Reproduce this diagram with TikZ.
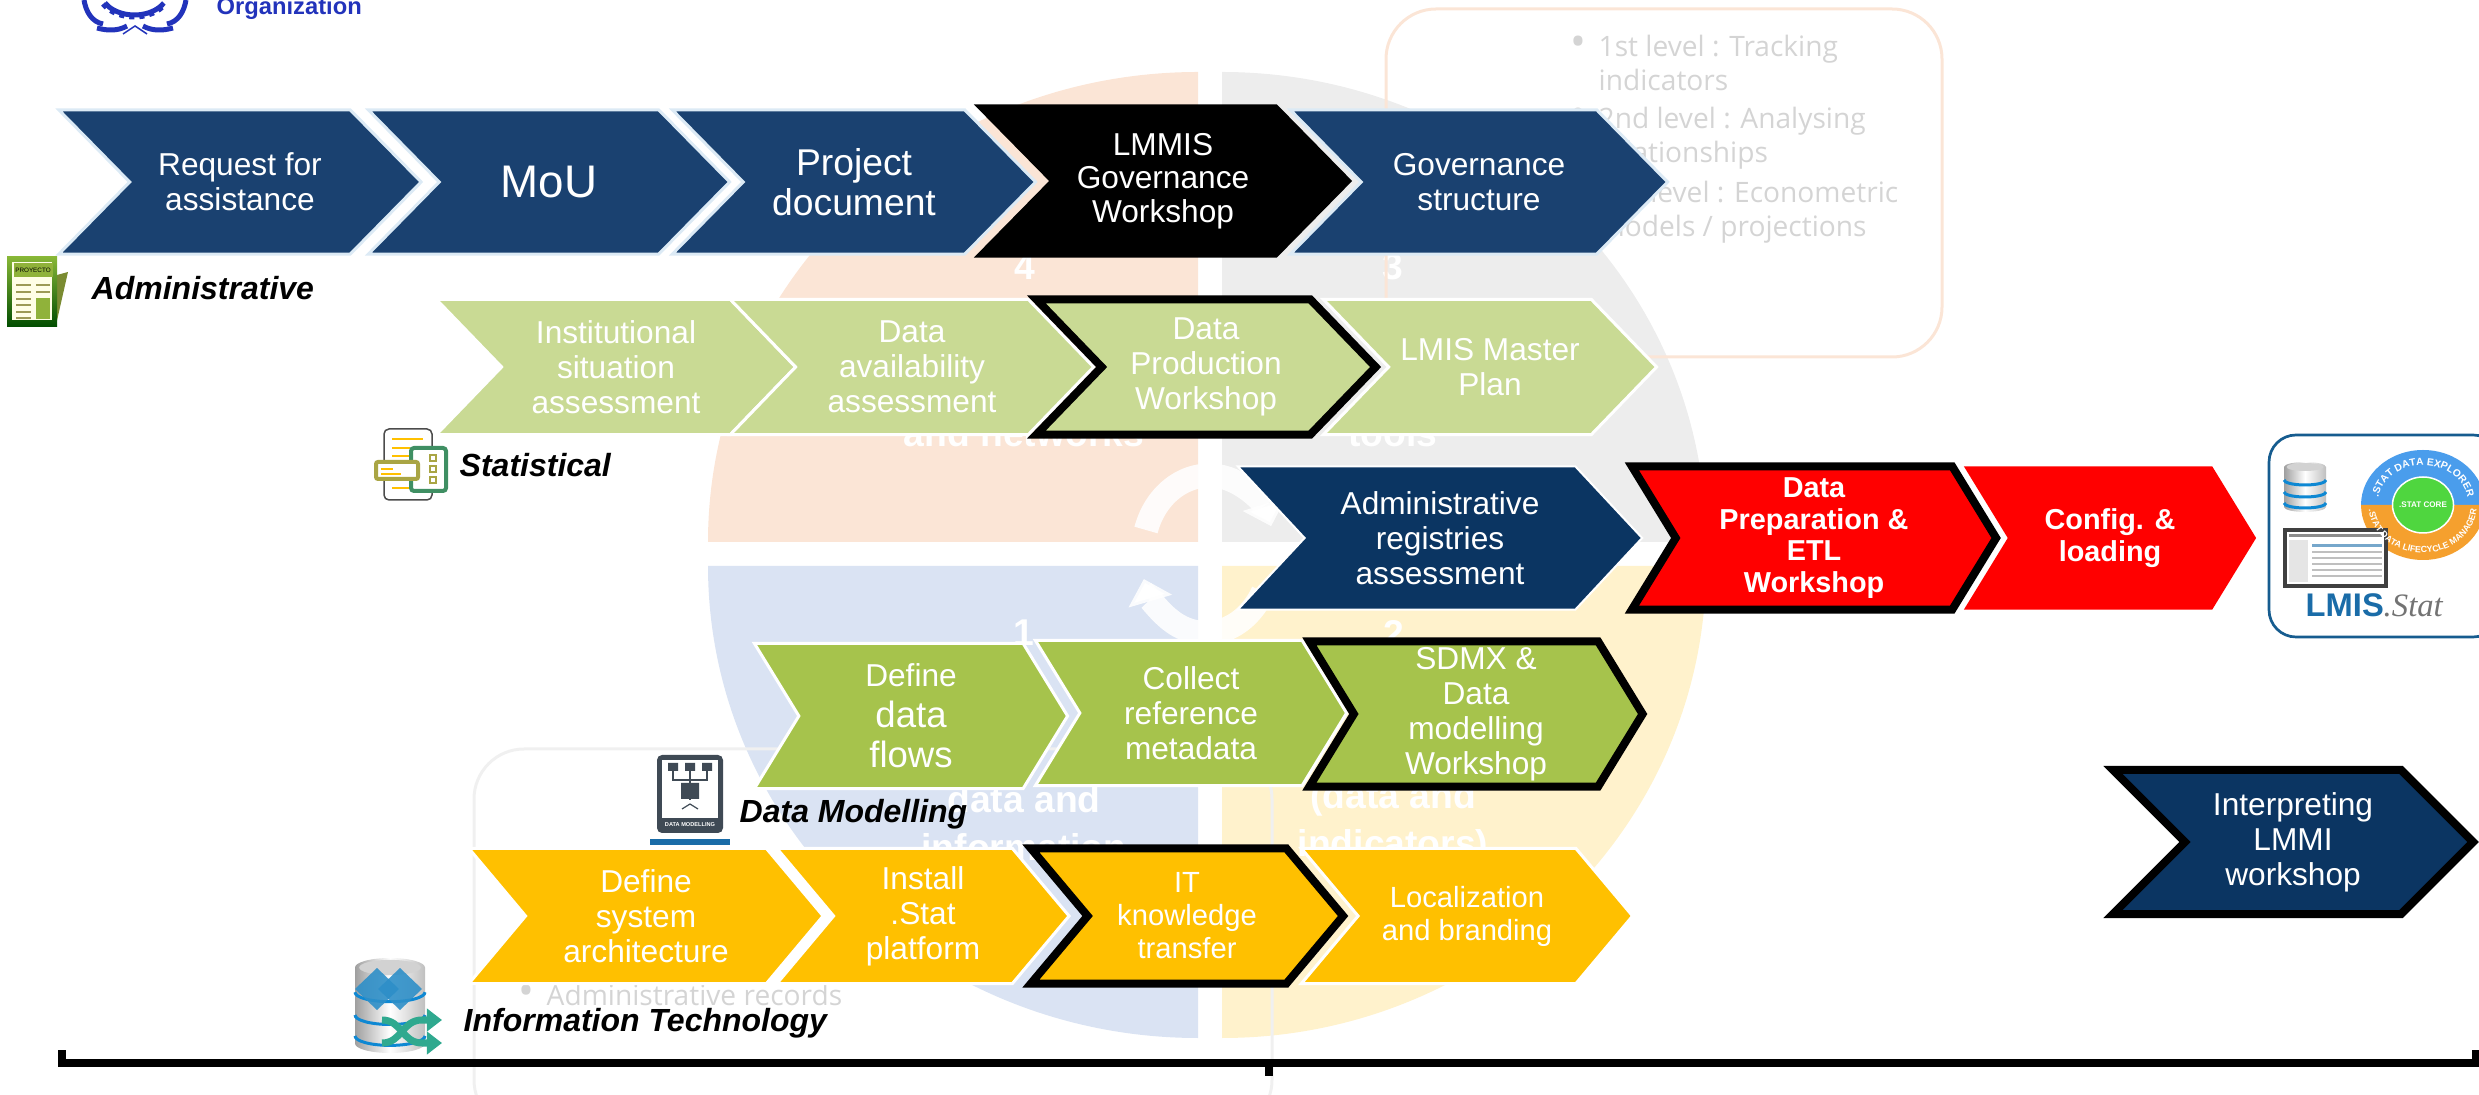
\documentclass[tikz,border=0pt]{standalone}
\usepackage{fontspec}
\setmainfont{Liberation Sans}
\newfontfamily\ghostfont{Open Sans}
\newfontfamily\slabfont{Liberation Serif}
\usetikzlibrary{shapes.symbols, arrows.meta, decorations.text}

\definecolor{quadpeach}{HTML}{FBE5D6}
\definecolor{quadgray}{HTML}{EDEDED}
\definecolor{quadblue}{HTML}{DAE3F3}
\definecolor{quadyellow}{HTML}{FFF2CC}
\definecolor{adminblue}{HTML}{1A4170}
\definecolor{adminpale}{HTML}{DCEAF5}
\definecolor{deepblue}{HTML}{0B3562}
\definecolor{statgreen}{HTML}{C9DA94}
\definecolor{modelgreen}{HTML}{A6C34C}
\definecolor{itorange}{HTML}{FFC000}
\definecolor{logoblue}{HTML}{2233BB}
\definecolor{lmisblue}{HTML}{1A6CA8}
\definecolor{ringblue}{HTML}{4A9DEC}
\definecolor{ringorange}{HTML}{F5A02E}
\definecolor{ringgreen}{HTML}{4FD63F}
\definecolor{ghostgray}{HTML}{D4D4D4}
\definecolor{teal}{HTML}{2FA98F}
\definecolor{olive}{HTML}{A9A544}
\definecolor{paper}{HTML}{3F8F63}
\definecolor{sheetgray}{HTML}{3F4A55}
\definecolor{diamondblue}{HTML}{2E8FC8}

\tikzset{dbstack/.pic={
    \shade[left color=gray!75, right color=gray!50, middle color=white] (-50,10) -- (-50,90) arc[start angle=180, end angle=0, x radius=50, y radius=10] -- (50,10) arc[start angle=0, end angle=-180, x radius=50, y radius=10] -- cycle;
    \fill[gray!35] (0,10) ellipse [x radius=44, y radius=8];
    \draw[cyan!70!blue, line width=.03cm] (-50,36) arc[start angle=180, end angle=0, x radius=50, y radius=10];
    \draw[cyan!70!blue, line width=.03cm] (-50,60) arc[start angle=180, end angle=0, x radius=50, y radius=10];
    \draw[cyan!70!blue, line width=.03cm] (-50,82) arc[start angle=180, end angle=0, x radius=50, y radius=10];
}}

\begin{document}
\begin{tikzpicture}[x=0.01cm, y=-0.01cm]
    \tikzstyle{flow} = [signal, signal to=east, signal from=west, outer sep=0pt, inner sep=0pt, align=center, text=white, font=\fontsize{9}{10}\selectfont]
    \tikzstyle{adminflow} = [flow, fill=adminblue, draw=adminpale, line width=.03cm, minimum height=1.44cm, signal pointer angle=91]
    \tikzstyle{statflow} = [flow, fill=statgreen, draw=white, line width=.03cm, minimum height=1.35cm, signal pointer angle=92]
    \tikzstyle{deepflow} = [flow, fill=deepblue, draw=white, line width=.02cm, minimum height=1.43cm, signal pointer angle=94]
    \tikzstyle{redflow} = [flow, fill=red, minimum height=1.43cm, signal pointer angle=117, font=\bfseries\fontsize{8.2}{9}\selectfont]
    \tikzstyle{modelflow} = [flow, fill=modelgreen, draw=white, line width=.03cm, minimum height=1.45cm, signal pointer angle=117]
    \tikzstyle{itflow} = [flow, fill=itorange, draw=white, line width=.03cm, minimum height=1.35cm, signal pointer angle=100]
    \tikzstyle{workshop} = [draw=black, line width=.08cm]
    \tikzstyle{tracklabel} = [anchor=west, inner sep=0pt, font=\bfseries\itshape\fontsize{9.1}{10}\selectfont]
    \tikzstyle{ghostword} = [text=white, align=center, inner sep=0pt, font=\bfseries\fontsize{10.6}{12}\selectfont]
    \tikzstyle{ghostbullet} = [anchor=west, align=left, inner sep=0pt, text=ghostgray, font=\ghostfont\fontsize{8}{9.7}\selectfont]
    \tikzstyle{ghostbox} = [rounded corners=.5cm, line width=.03cm]
    \tikzstyle{cyclearrow} = [draw=white, draw opacity=.88, line width=.24cm, -{Triangle[length=.23cm, width=.44cm]}]

    \clip (0,0) rectangle (2479,1095);

    % cycle in the background
    \fill[quadpeach] (1198,542) -- (1198,72) arc[start angle=270, end angle=180, x radius=490, y radius=470] -- cycle;
    \fill[quadgray] (1222,542) -- (1222,72) arc[start angle=270, end angle=360, x radius=484, y radius=470] -- cycle;
    \fill[quadblue] (1198,566) -- (708,566) arc[start angle=180, end angle=90, x radius=490, y radius=472] -- cycle;
    \fill[quadyellow] (1222,566) -- (1706,566) arc[start angle=0, end angle=90, x radius=484, y radius=472] -- cycle;
    \draw[cyclearrow] (1146,530) arc[start angle=197, end angle=340, x radius=66, y radius=77];
    \draw[cyclearrow] (1263,592) arc[start angle=30, end angle=160, x radius=66, y radius=82];

    \node (numfour) [ghostword] at (1025,267) {4};
    \node (numthree) [ghostword] at (1393,267) {3};
    \node (numone) [ghostword] at (1024,633) {1};
    \node (numtwo) [ghostword] at (1394,633) {2};
    \node (networks) [ghostword] at (1024,433) {and networks};
    \node (tools) [ghostword] at (1393,433) {tools};
    \node (datainfo) [ghostword] at (1024,823) {data and\\[.55mm]information};
    \node (dataind) [ghostword] at (1393,823) {(data and\\[.55mm]indicators)};

    % faded text boxes
    \draw[ghostbox, draw=quadpeach] (1386,9) rectangle (1942,357);
    \draw[ghostbox, draw=black!6] (474,749) rectangle (1272,1130);
    \node (levelone) [ghostbullet] at (1598,63) {\llap{{\fontsize{12}{9.7}\selectfont•}\hspace{1.2mm}}1st level : Tracking\\indicators};
    \node (leveltwo) [ghostbullet] at (1598,138) {\llap{{\fontsize{12}{9.7}\selectfont•}\hspace{1.2mm}}2nd level : Analysing\\relationships};
    \node (levelthree) [ghostbullet] at (1598,212) {\llap{{\fontsize{12}{9.7}\selectfont•}\hspace{1.2mm}}3rd level : Econometric\\models / projections};
    \node (records) [ghostbullet] at (546,995) {\llap{{\fontsize{12}{9.7}\selectfont•}\hspace{1.2mm}}Administrative records};

    % administrative
    \node (request) [adminflow, minimum width=3.62cm] at (240,182) {Request for\\assistance};
    \node (mou) [adminflow, minimum width=3.61cm, font=\fontsize{13}{14}\selectfont] at (549,182) {MoU};
    \node (document) [adminflow, minimum width=3.63cm, font=\fontsize{10.6}{11.4}\selectfont] at (854,182) {Project\\document};
    \node (lmmis) [flow, fill=black, minimum height=1.53cm, minimum width=3.78cm, signal pointer angle=91, font=\fontsize{9}{9.5}\selectfont] at (1163,181) {LMMIS\\Governance\\Workshop};
    \node (governance) [adminflow, minimum width=3.77cm] at (1479,182) {Governance\\structure};

    % statistical
    \node (institutional) [statflow, minimum width=3.59cm] at (616,367) {Institutional\\situation\\assessment};
    \node (availability) [statflow, minimum width=3.63cm] at (912,367) {Data\\availability\\assessment};
    \node (production) [statflow, workshop, minimum width=3.39cm] at (1206,367) {Data\\Production\\Workshop};
    \node (masterplan) [statflow, minimum width=3.33cm] at (1490,367) {LMIS Master\\Plan};

    % registries and loading
    \node (registries) [deepflow, minimum width=4.04cm] at (1440,538) {Administrative\\registries\\assessment};
    \node (preparation) [redflow, workshop, minimum width=3.64cm] at (1814,538) {Data\\Preparation \&\\ETL\\Workshop};
    \node (loading) [redflow, minimum width=2.92cm] at (2110,538) {Config. \&\\loading};

    % data modelling
    \node (dataflows) [modelflow, minimum width=3.13cm, font=\fontsize{10.4}{11.5}\selectfont] at (911,716) {{\fontsize{9}{11.5}\selectfont Define}\\data\\flows};
    \node (metadata) [modelflow, minimum width=3.11cm] at (1191,713) {Collect\\reference\\metadata};
    \node (sdmx) [modelflow, workshop, minimum width=3.33cm] at (1476,714) {SDMX \&\\Data\\modelling\\Workshop};

    % information technology
    \node (architecture) [itflow, minimum width=3.54cm] at (646,916) {Define\\system\\architecture};
    \node (platform) [itflow, minimum width=2.92cm] at (923,916) {Install\\.Stat\\platform};
    \node (transfer) [itflow, workshop, minimum width=3.12cm, font=\fontsize{8.3}{9.4}\selectfont] at (1187,916) {IT\\knowledge\\transfer};
    \node (branding) [itflow, minimum width=3.31cm, font=\fontsize{8.3}{9.4}\selectfont] at (1467,916) {Localization\\and branding};

    \node (interpreting) [deepflow, workshop, minimum height=1.44cm, minimum width=3.6cm, signal pointer angle=90] at (2293,842) {Interpreting\\LMMI\\workshop};

    % labels
    \node (adminlabel) [tracklabel] at (91,288) {Administrative};
    \node (statlabel) [tracklabel] at (459,465) {Statistical};
    \node (modellabel) [tracklabel] at (739,814) {Data Modelling};
    \node (itlabel) [tracklabel] at (463,1023) {Information Technology};

    % logo
    \node (organization) [anchor=base west, inner sep=0pt, text=logoblue, font=\bfseries\fontsize{6.75}{8}\selectfont] at (216,15) {Organization};
    \draw[logoblue, line width=.05cm] (105,3) arc[start angle=150, end angle=30, x radius=34, y radius=24];
    \draw[logoblue, line width=.05cm, dash pattern=on .05cm off .05cm] (103,4) arc[start angle=150, end angle=30, x radius=36, y radius=26];
    \draw[logoblue, line width=.05cm] (84,0) .. controls (86,12) and (92,22) .. (103,24);
    \draw[logoblue, line width=.05cm] (186,0) .. controls (184,12) and (178,22) .. (167,24);
    \draw[logoblue, line width=.05cm] (97,28) .. controls (108,31) and (118,31) .. (127,26);
    \draw[logoblue, line width=.05cm] (173,28) .. controls (162,31) and (152,31) .. (143,26);
    \draw[logoblue, line width=.015cm] (123,34) -- (135,26) -- (147,34);

    % newspaper
    \fill[olive!90!green!80!black] (57,275) -- (68,272) -- (56,325) -- (50,325) -- cycle;
    \shade[top color=olive!80!green, bottom color=green!30!black] (7,257) rectangle (57,327);
    \fill[white!90!yellow] (12,262) rectangle (52,320);
    \fill[olive!85!green] (14,263) rectangle (53,277);
    \node (proyecto) [inner sep=0pt, font=\fontsize{1.8}{2}\selectfont] at (33,270) {PROYECTO};
    \draw[olive!70!gray, line width=.02cm] (16,285) -- (31,285) (36,285) -- (50,285) (16,292) -- (31,292) (36,292) -- (50,292) (16,299) -- (31,299) (16,305) -- (31,305) (16,312) -- (31,312) (16,318) -- (31,318);
    \fill[olive!85!green] (36,298) rectangle (50,319);

    % paper and cards
    \draw[black!70, line width=.015cm, rounded corners=.05cm, fill=white] (384,429) rectangle (432,500);
    \draw[itorange, line width=.02cm] (392,439) -- (423,439) (392,448) -- (410,448) (392,456) -- (410,456) (392,488) -- (410,488);
    \draw[paper, line width=.04cm, rounded corners=.03cm, fill=white] (411,448) rectangle (446,491);
    \draw[olive, line width=.04cm, rounded corners=.02cm, fill=white] (376,462) rectangle (418,479);
    \draw[itorange, line width=.012cm] (381,469) -- (393,469) (381,474) -- (401,474);
    \draw[olive, line width=.015cm] (430,455) rectangle (436,461) (430,466) rectangle (436,472) (430,477) rectangle (436,483);

    % data modelling sheet
    \fill[sheetgray, rounded corners=.05cm] (657,755) rectangle (723,833);
    \fill[white] (662,760) rectangle (718,818);
    \node (modelsheet) [inner sep=0pt, text=white, font=\bfseries\fontsize{1.6}{2}\selectfont] at (690,825) {DATA MODELLING};
    \draw[sheetgray, line width=.012cm] (673,768) -- (673,780) -- (690,780) -- (690,768) (707,768) -- (707,780) -- (690,780) -- (690,800);
    \fill[sheetgray] (668,763) rectangle (678,771) (685,763) rectangle (695,771) (702,763) rectangle (712,771) (681,783) rectangle (699,799);
    \draw[sheetgray, line width=.012cm] (682,809) -- (690,804) -- (698,809);
    \fill[lmisblue] (650,839) rectangle (730,845);

    % database with arrows
    \pic [xscale=.7, yscale=.95] at (390,958) {dbstack};
    \fill[diamondblue, fill opacity=.9] (355,989) -- (377,968) -- (399,989) -- (377,1010) -- cycle;
    \fill[diamondblue, fill opacity=.9] (378,989) -- (400,968) -- (422,989) -- (400,1010) -- cycle;
    \draw[teal, line width=.07cm, -{Triangle[length=.15cm, width=.22cm]}] (382,1043) .. controls (402,1043) and (402,1020) .. (422,1020) -- (442,1020);
    \draw[teal, line width=.07cm, -{Triangle[length=.15cm, width=.22cm]}] (382,1020) .. controls (402,1020) and (402,1043) .. (422,1043) -- (442,1043);

    % lmis.stat card
    \draw[draw=lmisblue!85!black, line width=.027cm, fill=white, rounded corners=.27cm] (2269,435) rectangle (2500,637);
    \pic [xscale=.42, yscale=.5] at (2305,462) {dbstack};
    \fill[ringblue] (2361,505) arc[start angle=180, end angle=360, x radius=62, y radius=55] -- cycle;
    \fill[ringorange] (2361,505) arc[start angle=180, end angle=0, x radius=62, y radius=55] -- cycle;
    \fill[black!75] (2283,528) rectangle (2388,588);
    \fill[white] (2287,532) rectangle (2384,584);
    \fill[black!45] (2289,534) rectangle (2382,537);
    \fill[lmisblue!60] (2312,544) rectangle (2382,547);
    \fill[black!10] (2289,540) rectangle (2308,582);
    \draw[black!25, line width=.012cm] (2312,552) -- (2382,552) (2312,558) -- (2382,558) (2312,564) -- (2382,564) (2312,570) -- (2382,570) (2312,576) -- (2382,576);
    \draw[white, line width=.015cm, fill=ringgreen] (2423,505) ellipse [x radius=30.5, y radius=28];
    \node (statcore) [inner sep=0pt, text=white, font=\bfseries\fontsize{2.3}{3}\selectfont] at (2423,505) {.STAT CORE};
    \path[decorate, decoration={text along path, text align=center, text={|\bfseries\fontsize{2.9}{3}\selectfont\color{white}|.STAT DATA EXPLORER}}] (2378,500) arc[start angle=185, end angle=355, x radius=45, y radius=38];
    \path[decorate, decoration={text along path, text align=center, text={|\bfseries\fontsize{2.5}{3}\selectfont\color{white}|.STAT DATA LIFECYCLE MANAGER}}] (2369,510) arc[start angle=175, end angle=5, x radius=54, y radius=47];
    \node (lmisword) [anchor=base west, inner sep=0pt, text=lmisblue, font=\bfseries\fontsize{9.3}{10}\selectfont] at (2305,617) {LMIS};
    \node (statword) [anchor=base west, inner sep=0pt, text=black!55, font=\slabfont\itshape\fontsize{9.3}{10}\selectfont] at (2383,617) {.Stat};

    % span bracket
    \draw[black, line width=.08cm] (62,1050) -- (62,1063) -- (2476,1063) -- (2476,1050);
    \draw[black, line width=.08cm] (1269,1063) -- (1269,1076);
\end{tikzpicture}
\end{document}
